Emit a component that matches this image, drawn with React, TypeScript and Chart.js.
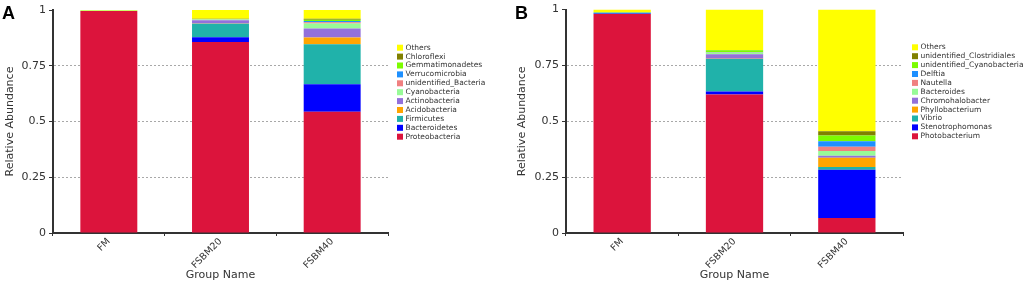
import React, { useEffect, useRef } from 'react';
import { Chart, registerables } from 'chart.js';

Chart.register(...registerables);

const categories = ['FM', 'FSBM20', 'FSBM40'];
const yTickValues = [0, 0.25, 0.5, 0.75, 1];
const yTickLabels = ['0', '0.25', '0.5', '0.75', '1'];

// Panel A – phylum level (bottom of stack first)
const taxaA = ['Proteobacteria', 'Bacteroidetes', 'Firmicutes', 'Acidobacteria', 'Actinobacteria', 'Cyanobacteria', 'unidentified_Bacteria', 'Verrucomicrobia', 'Gemmatimonadetes', 'Chloroflexi', 'Others'];
const proteobacteria = [0.995, 0.857, 0.544];
const bacteroidetes = [0.0, 0.021, 0.123];
const firmicutes = [0.0, 0.06, 0.179];
const acidobacteria = [0.0, 0.002, 0.031];
const actinobacteria = [0.0, 0.014, 0.04];
const cyanobacteria = [0.002, 0.003, 0.022];
const unidentifiedBacteria = [0.0, 0.001, 0.006];
const verrucomicrobia = [0.0, 0.001, 0.006];
const gemmatimonadetes = [0.001, 0.001, 0.005];
const chloroflexi = [0.0, 0.001, 0.005];
const othersA = [0.002, 0.039, 0.039];

// Panel B – genus level (bottom of stack first)
const taxaB = ['Photobacterium', 'Stenotrophomonas', 'Vibrio', 'Phyllobacterium', 'Chromohalobacter', 'Bacteroides', 'Nautella', 'Delftia', 'unidentified_Cyanobacteria', 'unidentified_Clostridiales', 'Others'];
const photobacterium = [0.98, 0.62, 0.067];
const stenotrophomonas = [0.003, 0.013, 0.216];
const vibrio = [0.004, 0.146, 0.012];
const phyllobacterium = [0.0, 0.001, 0.042];
const chromohalobacter = [0.0, 0.02, 0.009];
const bacteroides = [0.0, 0.007, 0.021];
const nautella = [0.0, 0.001, 0.019];
const delftia = [0.0, 0.001, 0.025];
const unidentifiedCyanobacteria = [0.0, 0.009, 0.025];
const unidentifiedClostridiales = [0.0, 0.001, 0.019];
const othersB = [0.013, 0.181, 0.545];

const palette = ['#DC143C', '#0000FF', '#20B2AA', '#FFA500', '#9370DB', '#98FB98', '#F08080', '#1E90FF', '#7CFC00', '#808000', '#FFFF00'];

const seriesA = [proteobacteria, bacteroidetes, firmicutes, acidobacteria, actinobacteria, cyanobacteria, unidentifiedBacteria, verrucomicrobia, gemmatimonadetes, chloroflexi, othersA];
const seriesB = [photobacterium, stenotrophomonas, vibrio, phyllobacterium, chromohalobacter, bacteroides, nautella, delftia, unidentifiedCyanobacteria, unidentifiedClostridiales, othersB];

const FONT = '"DejaVu Sans", Verdana, sans-serif';
const TEXT = '#333333';

const sideLegend = {
  id: 'sideLegend',
  afterDraw(chart: any) {
    const { ctx, chartArea } = chart;
    const ds = chart.data.datasets;
    ctx.save();
    ctx.font = `7.5px ${FONT}`;
    ctx.textBaseline = 'middle';
    ctx.textAlign = 'left';
    const x0 = chartArea.right + 9;
    let y = chartArea.top + 37.7;
    for (let i = ds.length - 1; i >= 0; i--) {
      ctx.fillStyle = ds[i].backgroundColor;
      ctx.fillRect(x0, y - 3, 6, 6);
      ctx.fillStyle = TEXT;
      ctx.fillText(ds[i].label, x0 + 8.5, y);
      y += 8.9;
    }
    ctx.restore();
  },
};

function makeConfig(taxa: string[], series: number[][], pad: { left: number; top: number; right: number }, yWidth: number): any {
  return {
    type: 'bar',
    data: {
      labels: categories,
      datasets: taxa.map((t, i) => ({
        label: t,
        data: series[i],
        backgroundColor: palette[i],
        borderWidth: 0,
        barPercentage: 0.51,
        categoryPercentage: 1.0,
      })),
    },
    options: {
      responsive: false,
      animation: false,
      layout: { padding: { left: pad.left, top: pad.top, right: pad.right, bottom: 0 } },
      plugins: { legend: { display: false }, tooltip: { enabled: false } },
      scales: {
        x: {
          stacked: true,
          offset: true,
          ticks: { font: { family: FONT, size: 9.5 }, color: TEXT, maxRotation: 45, minRotation: 45, padding: 0 },
          grid: { color: 'rgba(0,0,0,0)', tickColor: TEXT, tickLength: 3, offset: true, drawOnChartArea: false },
          border: { color: TEXT, width: 2 },
          title: { display: true, text: 'Group Name', font: { family: FONT, size: 11 }, color: TEXT, padding: { top: 2, bottom: 1 } },
          afterFit: (scale: any) => {
            scale.height = 50;
          },
        },
        y: {
          stacked: true,
          min: 0,
          max: 1,
          afterBuildTicks: (scale: any) => {
            scale.ticks = yTickValues.map((v) => ({ value: v }));
          },
          ticks: {
            font: { family: FONT, size: 11 },
            color: TEXT,
            padding: 3,
            callback: (v: any) => {
              const idx = yTickValues.indexOf(Number(v));
              return idx >= 0 ? yTickLabels[idx] : '';
            },
          },
          grid: {
            color: (ctx: any) => (ctx.tick && (ctx.tick.value === 0 || ctx.tick.value === 1) ? 'rgba(0,0,0,0)' : '#a8a8a8'),
            tickColor: TEXT,
            tickLength: 4,
            lineWidth: 1,
          },
          border: { color: TEXT, width: 2, dash: [2, 2] },
          title: { display: true, text: 'Relative Abundance', font: { family: FONT, size: 11 }, color: TEXT, padding: { top: 4, bottom: 0 } },
          afterFit: (scale: any) => {
            scale.width = yWidth;
          },
        },
      },
    },
    plugins: [sideLegend],
  };
}

function Panel({ config, width, left }: { config: any; width: number; left: number }) {
  const ref = useRef<HTMLCanvasElement | null>(null);
  useEffect(() => {
    if (!ref.current) return;
    const chart = new Chart(ref.current, config);
    return () => chart.destroy();
  }, [config]);
  return (
    <canvas
      ref={ref}
      width={width}
      height={283}
      style={{ position: 'absolute', left, top: 0, width, height: 283 }}
    />
  );
}

const configA = makeConfig(taxaA, seriesA, { left: 0, top: 10, right: 122 }, 53);
const configB = makeConfig(taxaB, seriesB, { left: 2, top: 7.3, right: 121 }, 54);

const letterStyle: React.CSSProperties = {
  position: 'absolute',
  top: 4,
  fontFamily: '"Liberation Sans", Arial, sans-serif',
  fontWeight: 'bold',
  fontSize: 18,
  lineHeight: '18px',
  color: '#000',
};

export default function App() {
  return (
    <div style={{ position: 'absolute', left: 0, top: 0, width: 1024, height: 283, background: '#fff', overflow: 'hidden' }}>
      <Panel config={configA} width={510} left={0} />
      <Panel config={configB} width={514} left={510} />
      <div style={{ ...letterStyle, left: 2 }}>A</div>
      <div style={{ ...letterStyle, left: 515 }}>B</div>
    </div>
  );
}
